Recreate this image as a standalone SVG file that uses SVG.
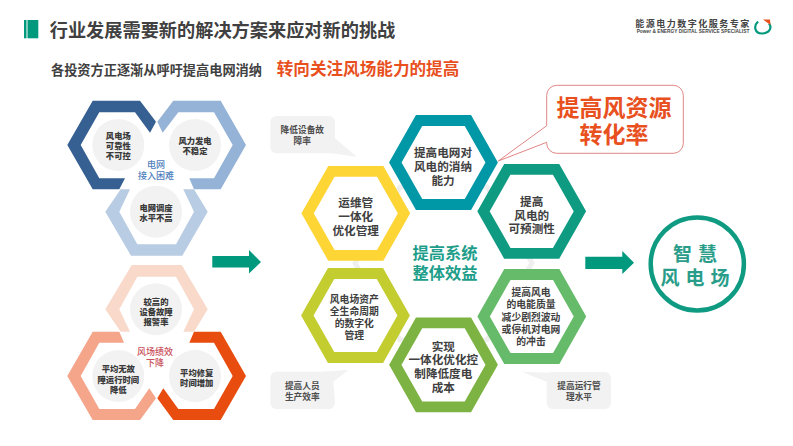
<svg xmlns="http://www.w3.org/2000/svg" width="793" height="446" viewBox="0 0 793 446">
<style>
text{font-family:"Noto Sans CJK SC","Liberation Sans",sans-serif;text-anchor:middle;dominant-baseline:central;font-weight:700;fill:#404040}
.s{font-size:8.3px;font-weight:900;fill:#3a3a3a}
.m{font-size:11.6px}
.n{font-size:9.8px}
.g{font-size:8.7px;font-weight:700;fill:#4d4d4d}
.e{fill:#f2f2f2}
.c{fill:#f2f2f2}
.hex{fill:#fff;stroke-width:10.8;stroke-linejoin:miter}
.a{fill:#00997d}
.o{fill:#e8501e}
.b{font-size:9px;font-weight:500;fill:#4f81bd}
.r{font-size:9px;font-weight:500;fill:#c9505a}
.k{font-size:16.3px;fill:#1e9e8a}
.w{font-size:19px;letter-spacing:6px;fill:#2a9d8a}
.t{font-size:23px}
</style>
<defs>
<polygon id="h" points="-48.2,0 -24.4,-42 24.4,-42 48.2,0 24.4,42 -24.4,42"/>
</defs>
<rect width="793" height="446" fill="#fff"/>
<g id="header">
<rect x="24" y="20" width="2.5" height="18.3" class="a"/><rect x="27.5" y="20" width="10.8" height="18.3" class="a"/>
<text x="222.5" y="29" style="font-size:18.2px">行业发展需要新的解决方案来应对新的挑战</text>
<text x="156.5" y="69" style="font-size:13.2px">各投资方正逐渐从呼吁提高电网消纳</text>
<text x="368" y="68" class="o" style="font-size:16.6px">转向关注风场能力的提高</text>
</g>
<g id="logo">
<text x="693" y="23.3" style="font-size:9px;letter-spacing:1.5px;fill:#444">能源电力数字化服务专家</text>
<text x="693" y="31" style="font-size:4.8px;font-family:'Liberation Sans',sans-serif;fill:#444">Power &amp; ENERGY DIGITAL SERVICE SPECIALIST</text>
<path d="M758 21.5C753 26.5 755 33.5 762 33.5C769 33.5 772.5 28 769 23.5" fill="none" stroke="#00997d" stroke-width="2.2"/>
<path d="M763 19.5L770 19.5L770.5 25Z" fill="#e8501e"/>
</g>
<g id="group-grid">
<polygon points="67.3,145 92.7,100.7 140,100.7 156,121.7 150,132.7 135,112.3 99.3,112.3 80.7,145 99.3,178.3 125,178.3 119.3,189.3 92.7,189.3" fill="#376092"/>
<polygon points="157.3,121.7 173.3,100.7 220.7,100.7 246,145 220.7,189.3 194,189.3 189.3,178.3 214,178.3 232.7,145 214,112.3 178.3,112.3 162.7,132.7" fill="#95b3d7"/>
<polygon points="120.7,189.3 105.3,211.7 131,255.7 182.3,255.7 207.7,211.7 194,189.3 183.3,189.3 194,211.7 176,244.3 137.3,244.3 119.3,211.7 130,189.3" fill="#b8cce4"/>
<circle cx="118.3" cy="145" r="26" class="c"/><circle cx="195" cy="145" r="26" class="c"/><circle cx="156" cy="211.7" r="26" class="c"/>
<text class="s"><tspan x="118.3" y="135">风电场</tspan><tspan x="118.3" y="145">可靠性</tspan><tspan x="118.3" y="155">不可控</tspan></text>
<text class="s"><tspan x="195" y="140">风力发电</tspan><tspan x="195" y="150">不稳定</tspan></text>
<text class="s"><tspan x="156" y="206.5">电网调度</tspan><tspan x="156" y="217">水平不高</tspan></text>
<text class="b"><tspan x="156" y="164">电网</tspan><tspan x="156" y="175">接入困难</tspan></text>
</g>
<g id="group-wind">
<polygon points="120.7,331.7 105.3,309.3 131.7,265 181.7,265 207.7,309.3 194,331.7 183.3,331.7 194,309.3 176,276.7 137.3,276.7 119.3,309.3 130,331.7" fill="#f8d9ca"/>
<polygon points="92.7,331.7 119.3,331.7 124,342.7 99.3,342.7 80.7,376 99.3,409 135,409 149.3,388.3 156,398.3 140,420 92.7,420 67.3,376" fill="#f4a58a"/>
<polygon points="194,331.7 220.7,331.7 246,376 220.7,420 173.3,420 157.3,398.3 163.3,388.3 178.3,409 214,409 232.7,376 214,342.7 189.3,342.7" fill="#e84c0e"/>
<circle cx="156" cy="309.3" r="26" class="c"/><circle cx="118.3" cy="376" r="26" class="c"/><circle cx="195" cy="376" r="26" class="c"/>
<text class="s"><tspan x="156" y="300.7">较高的</tspan><tspan x="156" y="310.7">设备故障</tspan><tspan x="156" y="321">报警率</tspan></text>
<text class="s"><tspan x="118.3" y="368.3">平均无故</tspan><tspan x="118.3" y="379">障运行时间</tspan><tspan x="118.3" y="389">降低</tspan></text>
<text class="s"><tspan x="196.7" y="371.7">平均修复</tspan><tspan x="196.7" y="381.7">时间增加</tspan></text>
<text class="r"><tspan x="155" y="351">风场绩效</tspan><tspan x="155" y="362">下降</tspan></text>
</g>
<g id="connectors">
<polygon points="212.3,256 249,256 249,250 261,262 249,273.5 249,267.5 212.3,267.5" class="a"/>
<polygon points="585.3,256.7 622.3,256.7 622.3,251 634,262.7 622.3,274 622.3,269 585.3,269" class="a"/>
</g>
<polygon id="backdrop" points="355,263 400,187 487,187 532,263 487,340 400,340" fill="none" stroke="#efefef" stroke-width="5"/>
<g id="hex-ops"><use href="#h" x="355.8" y="213.3" class="hex" stroke="#fdd535"/><text class="m"><tspan x="355.7" y="202.3">运维管</tspan><tspan x="355.7" y="216">一体化</tspan><tspan x="355.7" y="230">优化管理</tspan></text></g>
<g id="hex-grid"><use href="#h" x="443.5" y="162.5" class="hex" stroke="#0097a7"/><text class="m"><tspan x="443" y="152.3">提高电网对</tspan><tspan x="443" y="166">风电的消纳</tspan><tspan x="443" y="180">能力</tspan></text></g>
<g id="hex-forecast"><use href="#h" x="531.7" y="211.3" class="hex" stroke="#0f9b82"/><text class="m"><tspan x="531.7" y="201">提高</tspan><tspan x="531.7" y="215">风电的</tspan><tspan x="531.7" y="228.3">可预测性</tspan></text></g>
<g id="hex-asset"><use href="#h" x="355.5" y="315.5" class="hex" stroke="#c3cd2f"/><text class="n"><tspan x="354.3" y="299">风电场资产</tspan><tspan x="354.3" y="311">全生命周期</tspan><tspan x="354.3" y="322.7">的数字化</tspan><tspan x="354.3" y="335">管理</tspan></text></g>
<g id="hex-cost"><use href="#h" x="443.5" y="364.8" class="hex" stroke="#7cb342"/><text class="m"><tspan x="443.3" y="346">实现</tspan><tspan x="443.3" y="359.3">一体化优化控</tspan><tspan x="443.3" y="373.3">制降低度电</tspan><tspan x="443.3" y="387.3">成本</tspan></text></g>
<g id="hex-quality"><use href="#h" x="531.8" y="316.5" class="hex" stroke="#66bb6a"/><text class="n"><tspan x="531" y="292.3">提高风电</tspan><tspan x="531" y="304.3">的电能质量</tspan><tspan x="531" y="316.7">减少剧烈波动</tspan><tspan x="531" y="329">或停机对电网</tspan><tspan x="531" y="340.7">的冲击</tspan></text></g>
<g id="center-label"><text class="k"><tspan x="445" y="251.7">提高系统</tspan><tspan x="445" y="272.3">整体效益</tspan></text></g>
<g id="callout-a"><path class="e" d="M276.3 116H329a6 6 0 0 1 6 6V138.3L356.7 156.7 331.7 153.3H276.3a6 6 0 0 1-6-6V122a6 6 0 0 1 6-6Z"/><text class="g"><tspan x="302.3" y="129">降低设备故</tspan><tspan x="302.3" y="140">障率</tspan></text></g>
<g id="callout-b"><path class="e" d="M276.3 371.7H320L348.3 370 333.3 381.7 335 403a6 6 0 0 1-6 6H276.3a6 6 0 0 1-6-6V377.7a6 6 0 0 1 6-6Z"/><text class="g"><tspan x="302.3" y="385">提高人员</tspan><tspan x="302.3" y="395.7">生产效率</tspan></text></g>
<g id="callout-c"><path class="e" d="M552.7 372H605a6 6 0 0 1 6 6V403a6 6 0 0 1-6 6H552.7a6 6 0 0 1-6-6V381.7L521.7 371.7 548 372.7Z"/><text class="g"><tspan x="579" y="385">提高运行管</tspan><tspan x="579" y="396">理水平</tspan></text></g>
<g id="callout-main"><path d="M556.7 85.3H673.3a10 10 0 0 1 10 10V143.3a10 10 0 0 1-10 10H556.7a10 10 0 0 1-10-10V142.3L498.3 161 546.7 125.7V95.3a10 10 0 0 1 10-10Z" fill="#fff" stroke="#e08585" stroke-width="1"/><text class="o t"><tspan x="614" y="106">提高风资源</tspan><tspan x="614" y="133.3">转化率</tspan></text></g>
<g id="smart-wind"><circle cx="697.3" cy="264" r="46.6" fill="#fff" stroke="#0f9b82" stroke-width="4.5"/><text class="w"><tspan x="698" y="252">智慧</tspan><tspan x="698" y="275.7">风电场</tspan></text></g>
</svg>
